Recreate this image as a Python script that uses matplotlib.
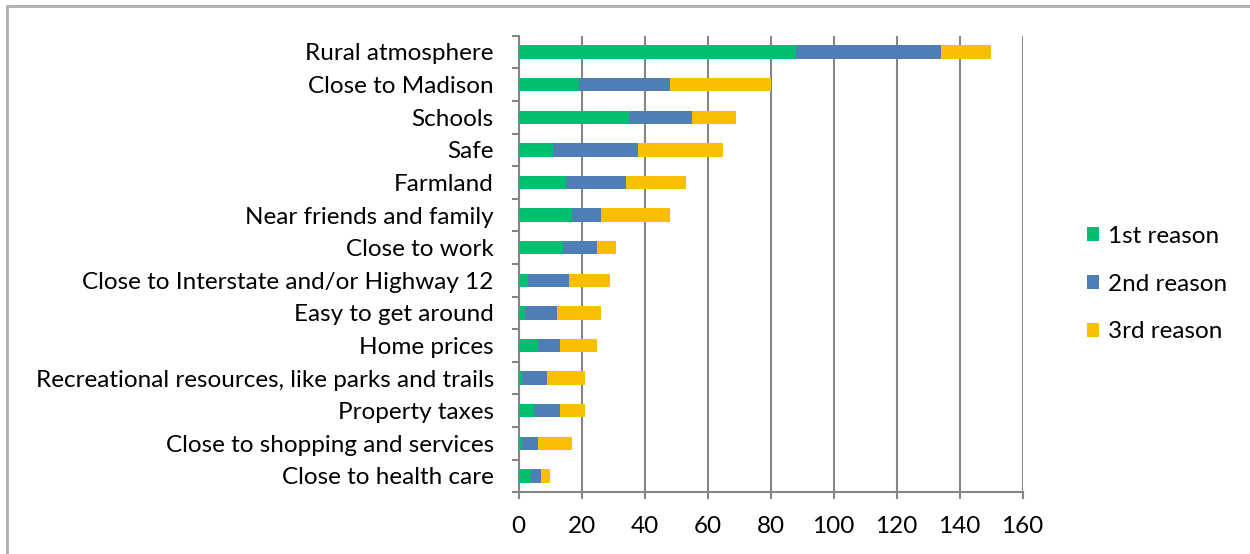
import matplotlib
matplotlib.use("Agg")
import matplotlib.pyplot as plt
import numpy as np
from matplotlib.patches import Patch, Rectangle

# data (top to bottom)
reasons = [
    "Rural atmosphere",
    "Close to Madison",
    "Schools",
    "Safe",
    "Farmland",
    "Near friends and family",
    "Close to work",
    "Close to Interstate and/or Highway 12",
    "Easy to get around",
    "Home prices",
    "Recreational resources, like parks and trails",
    "Property taxes",
    "Close to shopping and services",
    "Close to health care",
]
first = [88, 19, 35, 11, 15, 17, 14, 3, 2, 6, 1, 5, 1, 4]
second = [46, 29, 20, 27, 19, 9, 11, 13, 10, 7, 8, 8, 5, 3]
third = [16, 32, 14, 27, 19, 22, 6, 13, 14, 12, 12, 8, 11, 3]
series_names = ["1st reason", "2nd reason", "3rd reason"]
colors = ["#00BF6F", "#4F7DB6", "#F8BF00"]

plt.rcParams["font.family"] = ["Lato", "DejaVu Sans"]
FS = 17.5

fig = plt.figure(figsize=(12.5, 5.54), dpi=100)
ax = fig.add_axes([0.415, 0.1114, 0.403, 0.8242])

n = len(reasons)
y = np.arange(n)[::-1]
left = np.zeros(n)
for vals, name, c in zip([first, second, third], series_names, colors):
    vals = np.array(vals)
    ax.barh(y, vals, left=left, height=0.41, color=c, label=name, zorder=3)
    left += vals

ax.set_xlim(0, 160)
ax.set_ylim(-0.5, n - 0.5)
ax.set_xticks(np.arange(0, 161, 20))
ax.set_yticks(y)
ax.set_yticklabels(reasons)
ax.set_yticks(np.arange(-0.5, n, 1), minor=True)

ax.grid(axis="x", color="#868686", linewidth=1.5, zorder=0)
for s in ["top", "right"]:
    ax.spines[s].set_visible(False)
for s in ["left", "bottom"]:
    ax.spines[s].set_color("#868686")
    ax.spines[s].set_linewidth(1.5)

ax.tick_params(axis="y", which="major", length=0, pad=18, labelsize=FS)
ax.tick_params(axis="y", which="minor", length=5, width=1.5, color="#868686")
ax.tick_params(axis="x", length=5, width=1.5, color="#868686", pad=12, labelsize=FS)

handles = [Patch(facecolor=c, label=nm) for c, nm in zip(colors, series_names)]
fig.legend(handles=handles, loc="center left", bbox_to_anchor=(0.852, 0.487),
           frameon=False, fontsize=FS, handlelength=0.5, handleheight=0.5,
           handletextpad=0.37, labelspacing=1.1)

# chart area border
fig.patches.append(Rectangle((7 / 1250, -0.1), 1.2, 1 - 6.5 / 554 + 0.1,
                             transform=fig.transFigure, fill=False,
                             edgecolor="#AEAEAE", linewidth=2))

fig.savefig("out.png", dpi=100)
